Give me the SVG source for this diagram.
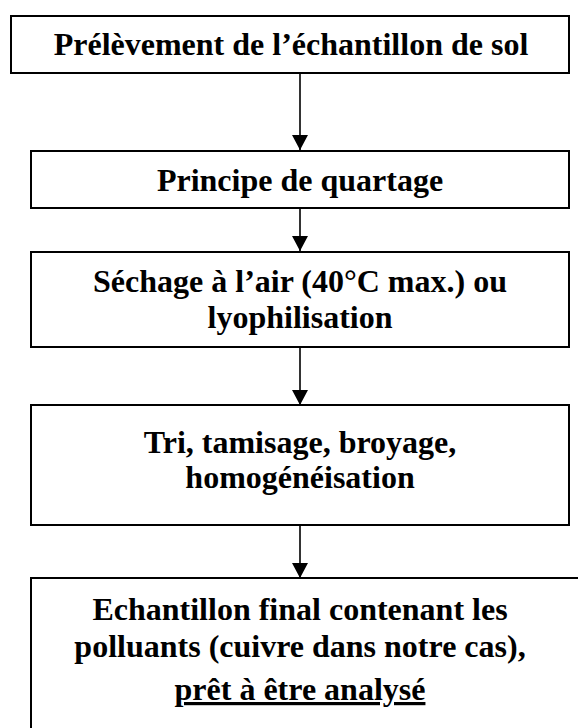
<svg xmlns="http://www.w3.org/2000/svg" width="578" height="728" viewBox="0 0 578 728">
<defs>
<style>
.box{fill:#fff;stroke:#000;stroke-width:2}
.t{font-family:"Liberation Serif","Times New Roman",serif;font-weight:bold;font-size:32px;fill:#000;text-anchor:middle}
.c{stroke:#000;stroke-width:1.6;fill:none}
</style>
<marker id="ah" markerUnits="userSpaceOnUse" markerWidth="16" markerHeight="16" viewBox="0 0 16 16" refX="15" refY="8" orient="auto">
<path d="M0,0 L15,8 L0,16 Z" fill="#000"/>
</marker>
</defs>
<rect width="578" height="728" fill="#fff"/>
<g id="connectors">
<line class="c" x1="300" y1="73" x2="300" y2="150" marker-end="url(#ah)"/>
<line class="c" x1="300" y1="209" x2="300" y2="251" marker-end="url(#ah)"/>
<line class="c" x1="300" y1="347" x2="300" y2="405" marker-end="url(#ah)"/>
<line class="c" x1="300" y1="520" x2="300" y2="578" marker-end="url(#ah)"/>
</g>
<g id="n1">
<rect class="box" x="11" y="16" width="558" height="57"/>
<text class="t" x="291" y="55">Prélèvement de l’échantillon de sol</text>
</g>
<g id="n2">
<rect class="box" x="31" y="151" width="538" height="57"/>
<text class="t" x="300" y="191">Principe de quartage</text>
</g>
<g id="n3">
<rect class="box" x="31" y="252" width="538" height="95"/>
<text class="t" x="300" y="292">Séchage à l’air (40°C max.) ou</text>
<text class="t" x="300" y="328">lyophilisation</text>
</g>
<g id="n4">
<rect class="box" x="31" y="405" width="538" height="120"/>
<text class="t" x="300" y="453">Tri, tamisage, broyage,</text>
<text class="t" x="300" y="488">homogénéisation</text>
</g>
<g id="n5">
<rect class="box" x="31" y="578" width="560" height="170"/>
<text class="t" x="300" y="620">Echantillon final contenant les</text>
<text class="t" x="300" y="657">polluants (cuivre dans notre cas),</text>
<text class="t" x="300" y="700" text-decoration="underline">prêt à être analysé</text>
</g>
</svg>
